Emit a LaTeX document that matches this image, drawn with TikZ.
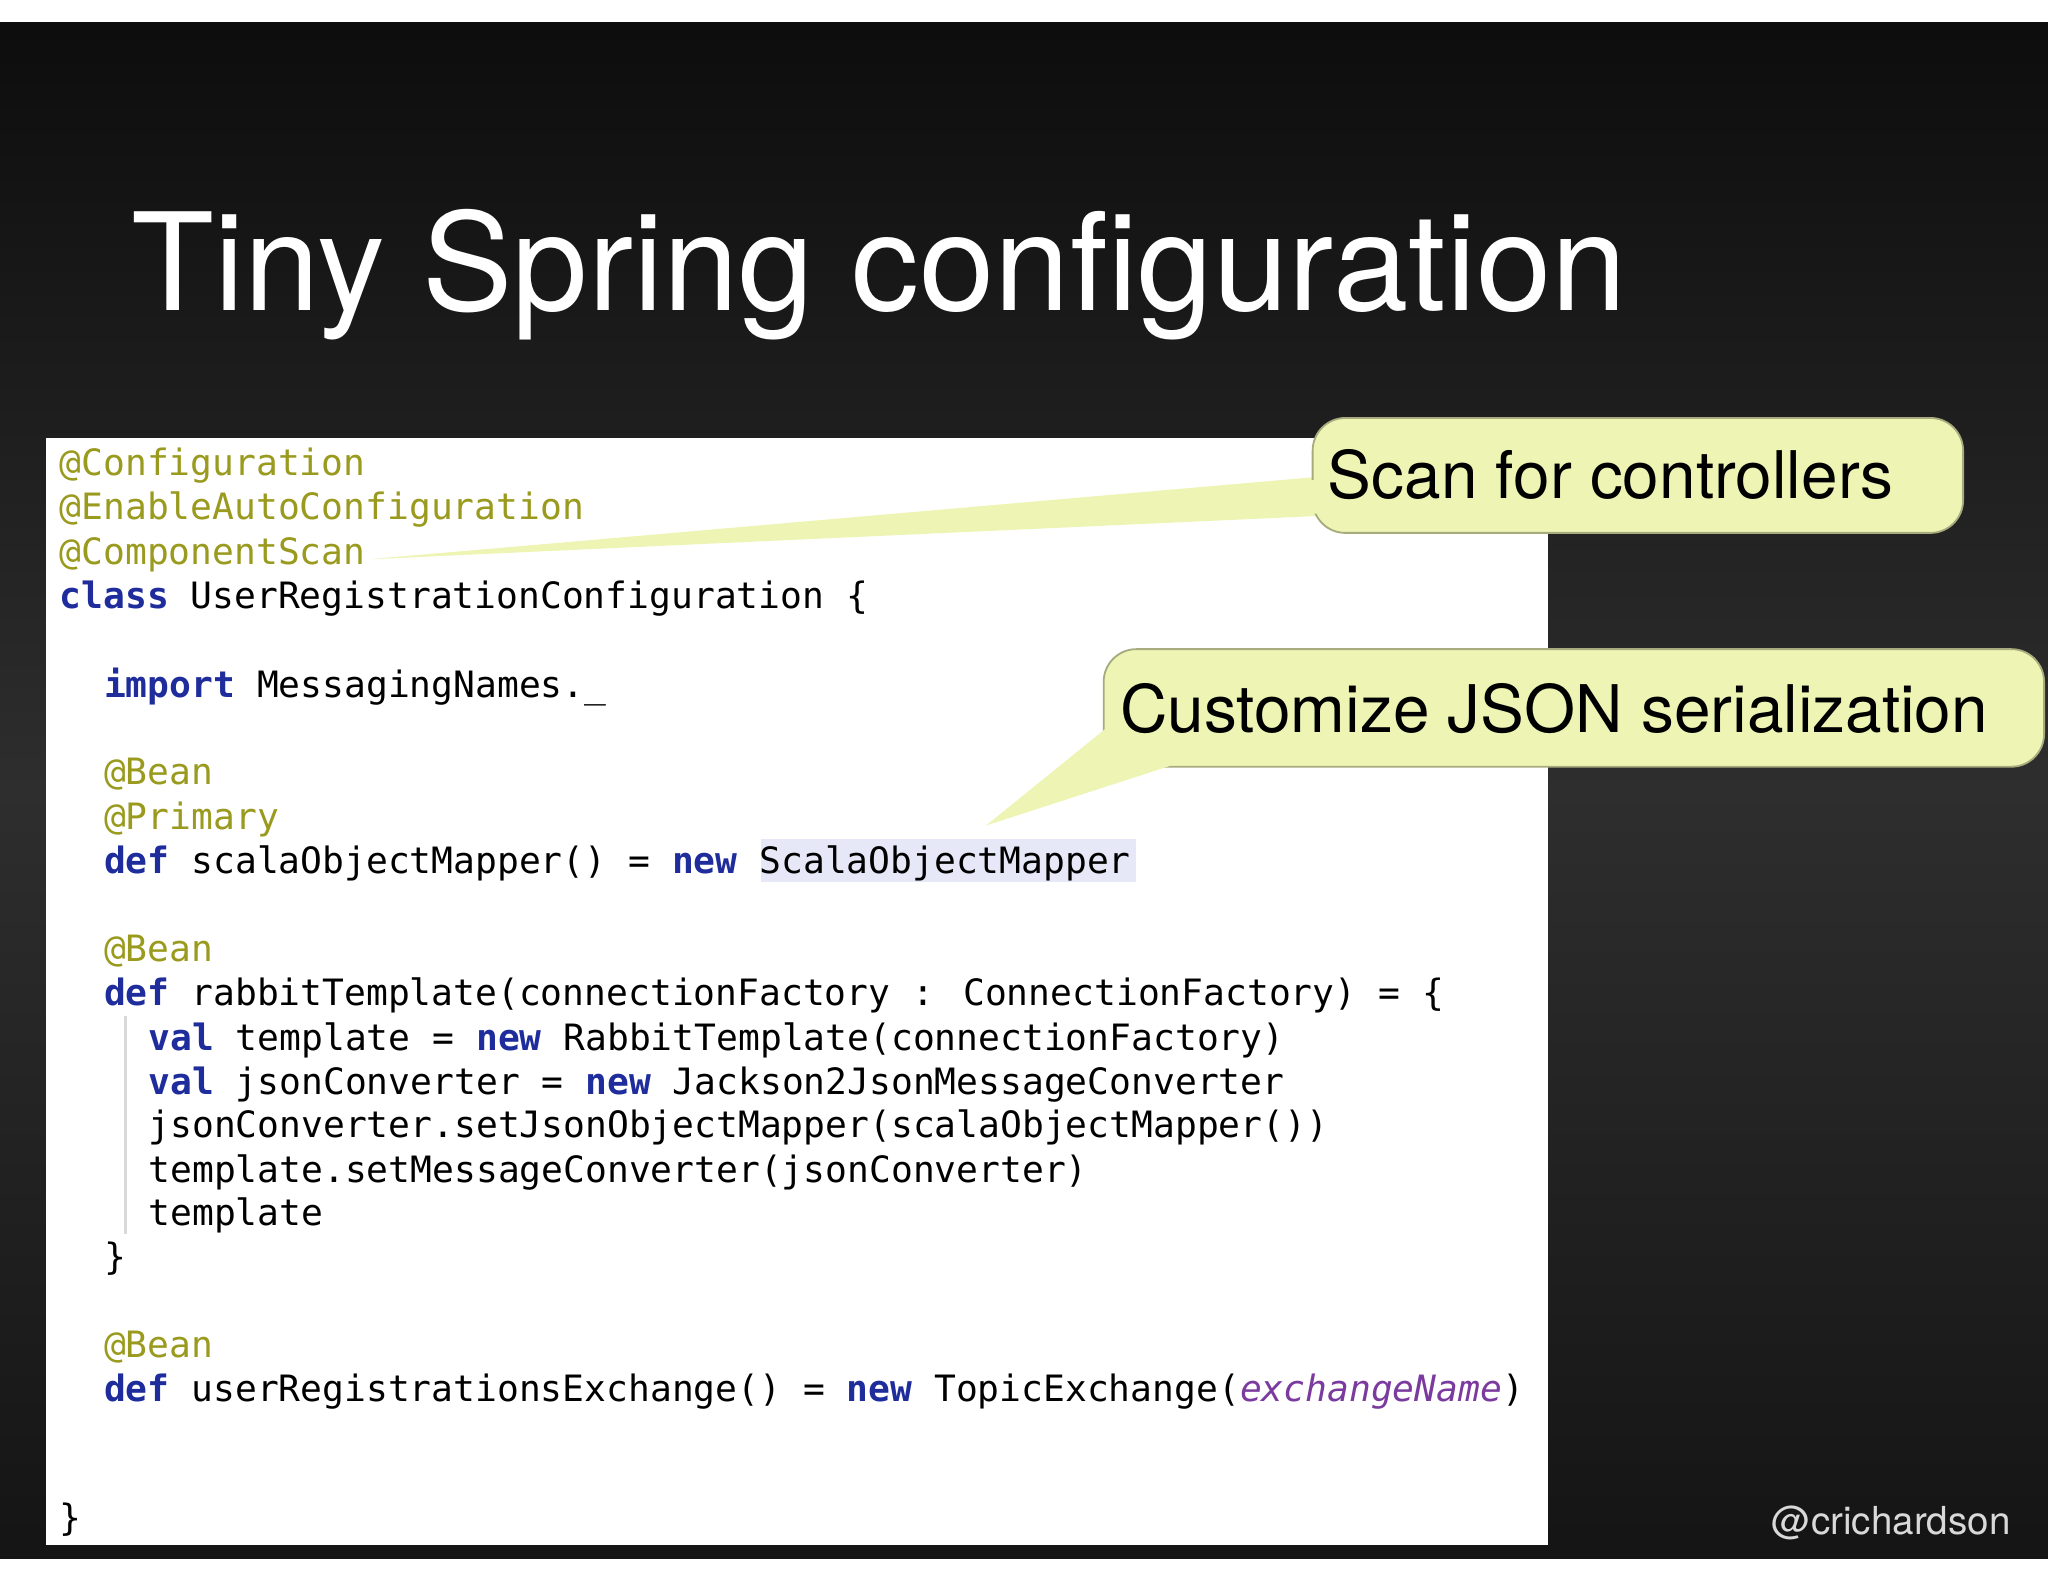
\documentclass[tikz,border=0pt]{standalone}
\usepackage{fontspec}
\setmainfont{TeX Gyre Heros}
\newfontfamily\codefont{DejaVu Sans Mono}
\usetikzlibrary{calc}
\definecolor{anno}{HTML}{9A9A1E}
\definecolor{kw}{HTML}{1E2C9C}
\definecolor{purp}{HTML}{7B3B9E}
\definecolor{callfill}{HTML}{EEF5B4}
\definecolor{hl}{HTML}{E6E8F8}
\newcommand{\kwd}[1]{\textcolor{kw}{\textbf{#1}}}
\newcommand{\ann}[1]{\textcolor{anno}{#1}}
\tikzset{x=0.01cm,y=-0.01cm,
 code/.style={anchor=base west,inner sep=0pt,font=\codefont\fontsize{7.9pt}{9pt}\selectfont,text=black},
 callbox/.style={fill=callfill,draw=callfill!70!black,line width=0.4pt,rounded corners=0.25cm},
 calltext/.style={anchor=base west,inner sep=0pt,font=\fontsize{14.3pt}{16pt}\selectfont,text=black}}
\begin{document}
\begin{tikzpicture}
\useasboundingbox (0,0) rectangle (1568,1211);
\fill[white] (0,0) rectangle (1568,1211);
\shade[top color=black!95,bottom color=black!92,middle color=black!82] (0,17) rectangle (1568,1193);
\node[anchor=base west,inner sep=0pt,text=white,font=\fontsize{29.5pt}{32pt}\selectfont] (title) at (100,238) {Tiny Spring configuration};
\fill[white] (35,335) rectangle (1185,1183);
\fill[hl] (583,642) rectangle (870,675);
\draw[black!15,line width=0.6pt] (96,778) -- (96,945);
\node[code] (l1) at (45,364) {\ann{@Configuration}};
\node[code] (l2) at (45,398) {\ann{@EnableAutoConfiguration}};
\node[code] (l3) at (45,432) {\ann{@ComponentScan}};
\node[code] (l4) at (45,466) {\kwd{class} UserRegistrationConfiguration \{};
\node[code] (l5) at (79,534) {\kwd{import} MessagingNames.\_};
\node[code] (l6) at (79,601) {\ann{@Bean}};
\node[code] (l7) at (79,635) {\ann{@Primary}};
\node[code] (l8) at (79,669) {\kwd{def} scalaObjectMapper() = \kwd{new} ScalaObjectMapper};
\node[code] (l9) at (79,736) {\ann{@Bean}};
\node[code] (l10) at (79,770) {\kwd{def} rabbitTemplate(connectionFactory : ConnectionFactory) = \{};
\node[code] (l11) at (113,804) {\kwd{val} template = \kwd{new} RabbitTemplate(connectionFactory)};
\node[code] (l12) at (113,838) {\kwd{val} jsonConverter = \kwd{new} Jackson2JsonMessageConverter};
\node[code] (l13) at (113,871) {jsonConverter.setJsonObjectMapper(scalaObjectMapper())};
\node[code] (l14) at (113,905) {template.setMessageConverter(jsonConverter)};
\node[code] (l15) at (113,938) {template};
\node[code] (l16) at (79,972) {\}};
\node[code] (l17) at (79,1039) {\ann{@Bean}};
\node[code] (l18) at (79,1073) {\kwd{def} userRegistrationsExchange() = \kwd{new} TopicExchange(\textcolor{purp}{\itshape exchangeName})};
\node[code] (l19) at (45,1172) {\}};
% callout 1
\coordinate (p1) at (285,428);
\fill[callfill] (p1) -- (1010,365) -- (1010,395) -- cycle;
\draw[callbox] (1005,320) rectangle (1503,408);
\fill[callfill] (p1) -- (1012,367) -- (1012,393) -- cycle;
\node[calltext] (c1) at (1016,382) {Scan for controllers};
% callout 2
\coordinate (p2) at (755,632);
\draw[callbox] (845,497) rectangle (1565,587);
\fill[callfill] (p2) -- (850,555) -- (900,585) -- cycle;
\fill[callfill] (850,553) rectangle (905,585);
\node[calltext] (c2) at (857,561) {Customize JSON serialization};
\node[anchor=base east,inner sep=0pt,text=white!85!black,font=\fontsize{8.4pt}{10pt}\selectfont] (tw) at (1540,1175) {@crichardson};
\end{tikzpicture}
\end{document}
